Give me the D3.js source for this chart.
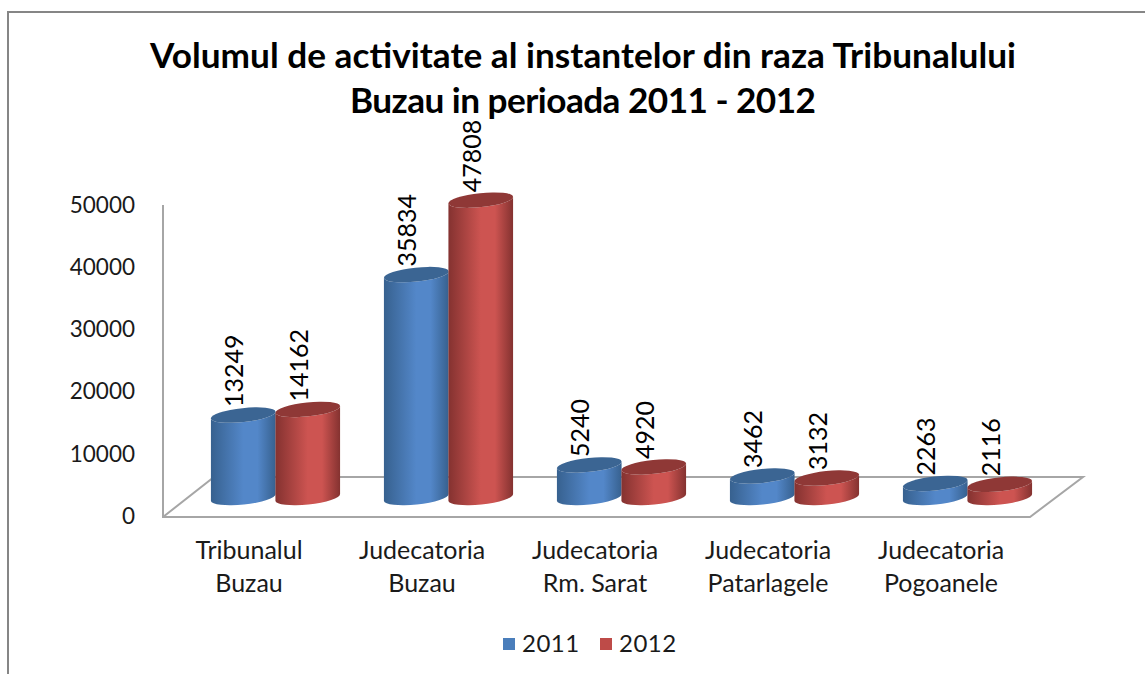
<!DOCTYPE html>
<html><head><meta charset="utf-8">
<script src="https://cdn.jsdelivr.net/npm/d3@7"></script>
<style>html,body{margin:0;padding:0;background:#fff;overflow:hidden}svg{display:block}text{font-family:Lato,"Open Sans",sans-serif}</style>
</head><body><div id="c"></div>
<script>
const titleLines = ["Volumul de activitate al instantelor din raza Tribunalului", "Buzau in perioada 2011 - 2012"];
const categories = ["Tribunalul Buzau", "Judecatoria Buzau", "Judecatoria Rm. Sarat", "Judecatoria Patarlagele", "Judecatoria Pogoanele"];
const categoryLines = [["Tribunalul","Buzau"],["Judecatoria","Buzau"],["Judecatoria","Rm. Sarat"],["Judecatoria","Patarlagele"],["Judecatoria","Pogoanele"]];
const seriesNames = ["2011", "2012"];
const values2011 = [13249, 35834, 5240, 3462, 2263];
const values2012 = [14162, 47808, 4920, 3132, 2116];
const yTicks = [0, 10000, 20000, 30000, 40000, 50000];
const colors = {"2011":{mid:"#5387c9",edge:"#37618f",top:"#3b6593",legend:"#4a7ebb"},"2012":{mid:"#cd5451",edge:"#843230",top:"#8f3836",legend:"#be4b48"}};

const W=1145,H=674;
const svg=d3.select("#c").append("svg").attr("width",W).attr("height",H);
const defs=svg.append("defs");
seriesNames.forEach(s=>{
  const g=defs.append("linearGradient").attr("id","g"+s);
  [[0,colors[s].edge],[.5,colors[s].mid],[.72,colors[s].mid],[1,colors[s].edge]].forEach(([o,c])=>g.append("stop").attr("offset",o).attr("stop-color",c));
});
const data=seriesNames.map((s,i)=>({s,vals:i?values2012:values2011}));

// frame
svg.append("path").attr("d",`M8,${H}V12H${W}`).attr("fill","none").attr("stroke","#868686").attr("stroke-width",2);

// title
svg.append("g").selectAll("text").data(titleLines).join("text")
  .attr("x",583).attr("y",(d,i)=>68+i*45).attr("text-anchor","middle")
  .attr("font-size",35.2).attr("font-weight",700).attr("fill","#000")
  .attr("textLength",(d,i)=>i?466:866).attr("lengthAdjust","spacing").text(d=>d);

// scales
const x0=d3.scaleBand().domain(categories).range([189,1054]);
const x1=d3.scaleBand().domain(seriesNames).range([x0.bandwidth()/2-64.5,x0.bandwidth()/2+64.5]);
const baseY=497.5, axisBottom=516, pxRange=311;
const y=d3.scaleLinear().domain([0,50000]).range([baseY,baseY-pxRange]);
const yAxisScale=d3.scaleLinear().domain([0,50000]).range([axisBottom,axisBottom-pxRange]);

// floor & walls
const floor=d3.line();
svg.append("path").attr("d",floor([[163,yAxisScale(50000)],[163,517],[1030,517],[1083,477],[214,477],[163,517]]))
  .attr("fill","none").attr("stroke","#a6a6a6").attr("stroke-width",2);

// y axis
const ax=svg.append("g").attr("transform","translate(135,0)")
  .call(d3.axisLeft(yAxisScale).tickValues(yTicks).tickSize(0).tickPadding(0).tickFormat(d3.format("d")));
ax.select(".domain").remove();
ax.selectAll("text").attr("font-size",22.5).attr("fill","#1a1a1a").style("font-family","Lato,sans-serif");

// category labels
const cat=svg.append("g").selectAll("g").data(categories).join("g")
  .attr("transform",c=>`translate(${x0(c)+x0.bandwidth()/2-26.5},0)`);
cat.selectAll("text").data((c,i)=>categoryLines[i]).join("text")
  .attr("y",(d,i)=>559+i*33).attr("text-anchor","middle").attr("font-size",25).attr("fill","#1a1a1a").text(d=>d);

// value labels
const rx=32.5, ry=7, tilt=-6, rad=tilt*Math.PI/180;
data.forEach(d=>{
  svg.append("g").selectAll("text").data(d.vals).join("text")
    .attr("transform",(v,i)=>`translate(${x0(categories[i])+x1(d.s)+x1.bandwidth()/2},${y(v)-8}) rotate(-90)`)
    .attr("text-anchor","start").attr("font-size",25).attr("fill","#000").text(v=>v);
});

// cylinders
data.forEach(d=>{
  const g=svg.append("g").selectAll("g").data(d.vals).join("g")
    .attr("transform",(v,i)=>`translate(${x0(categories[i])+x1(d.s)+x1.bandwidth()/2},0)`);
  const dx=rx*Math.cos(rad), dy=rx*Math.sin(rad);
  g.append("path")
    .attr("d",v=>`M${-dx},${y(v)-dy}L${-dx},${y(0)-dy}A${rx},${ry},${tilt},0,0,${dx},${y(0)+dy}L${dx},${y(v)+dy}A${rx},${ry},${tilt},0,1,${-dx},${y(v)-dy}Z`)
    .attr("fill",`url(#g${d.s})`);
  g.append("ellipse").attr("rx",rx).attr("ry",ry)
    .attr("transform",v=>`translate(0,${y(v)}) rotate(${tilt})`)
    .attr("fill",colors[d.s].top);
});

// legend
const lg=svg.append("g").selectAll("g").data(seriesNames).join("g")
  .attr("transform",(s,i)=>`translate(${503+i*97},0)`);
lg.append("rect").attr("y",638).attr("width",12).attr("height",12).attr("fill",s=>colors[s].legend);
lg.append("text").attr("x",19).attr("y",652).attr("font-size",24).attr("letter-spacing",.5).attr("fill","#1a1a1a").text(s=>s);
</script></body></html>
